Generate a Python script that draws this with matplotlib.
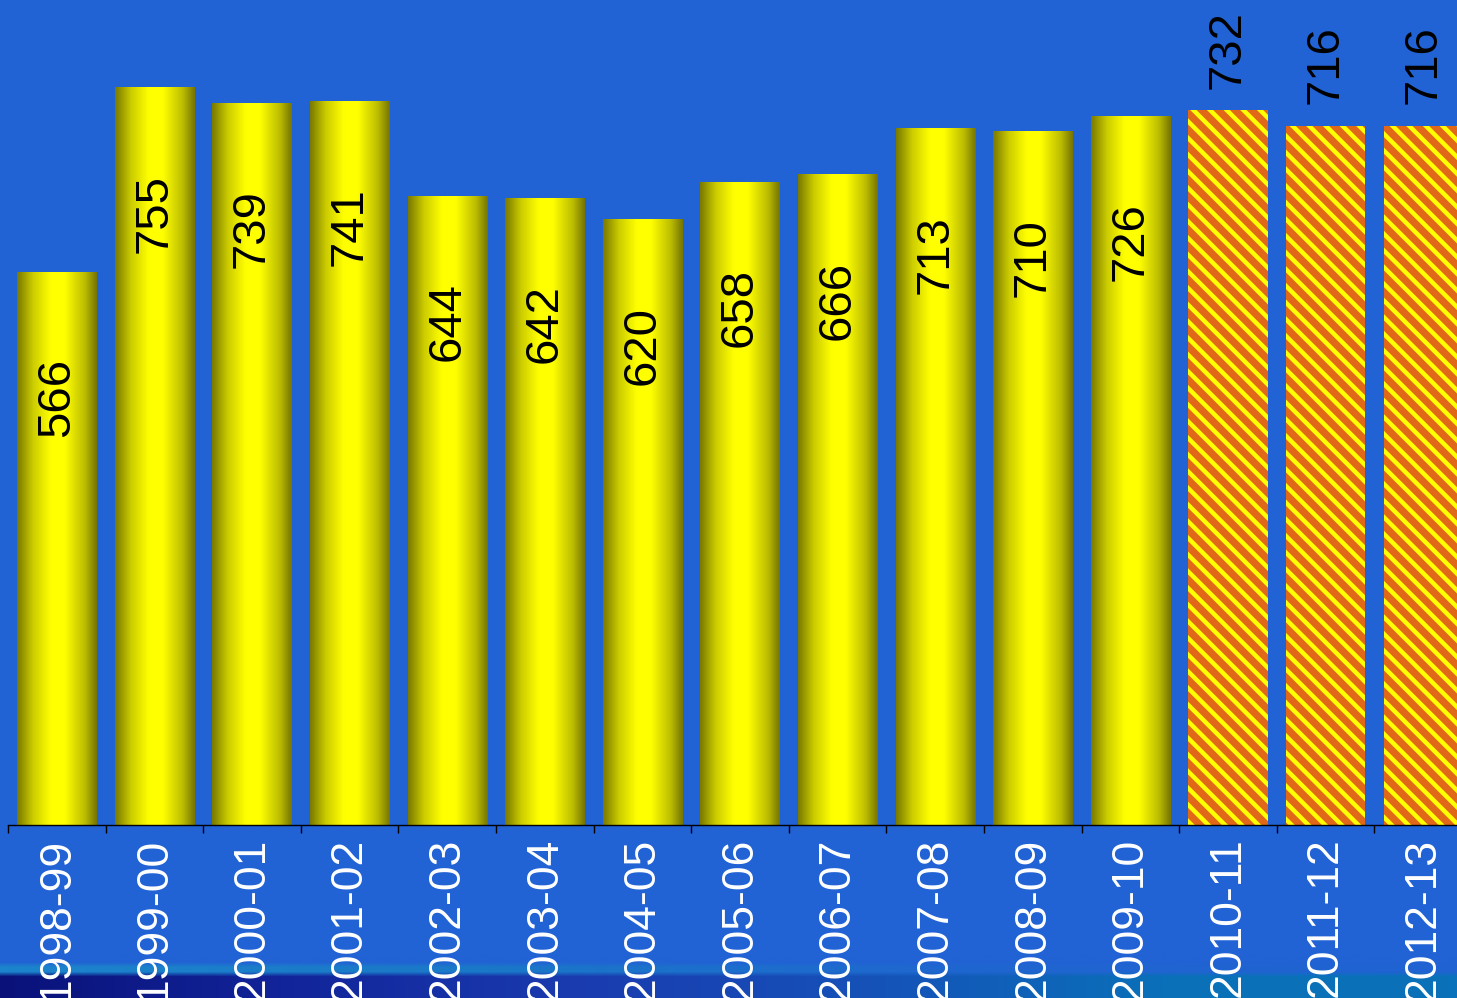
import numpy as np
import matplotlib
matplotlib.use('Agg')
import matplotlib.pyplot as plt
from matplotlib.colors import LinearSegmentedColormap

plt.rcParams['font.family'] = ['Liberation Sans', 'DejaVu Sans']
plt.rcParams['hatch.linewidth'] = 3.2

# 数据
seasons = ['1998-99', '1999-00', '2000-01', '2001-02', '2002-03', '2003-04',
           '2004-05', '2005-06', '2006-07', '2007-08', '2008-09', '2009-10',
           '2010-11', '2011-12', '2012-13']
values = [566, 755, 739, 741, 644, 642, 620, 658, 666, 713, 710, 726, 732, 716, 716]
projected = [False] * 12 + [True] * 3

bg = '#2162d4'
fig = plt.figure(figsize=(14.57, 9.98), dpi=100, facecolor=bg)

# 底部背景条
band = fig.add_axes([0, 0, 1, 43 / 998], zorder=0)
band_cmap_top = LinearSegmentedColormap.from_list('t', ['#1c84cc', '#1a78c8', '#1f66d0', '#2062d2'])
band_cmap_bot = LinearSegmentedColormap.from_list('b', ['#0a127a', '#12259a', '#1a3cb0', '#1552b8', '#0a70b8', '#0a72ba'])
xs = np.linspace(0, 1, 300)
top_rows = band_cmap_top(xs)[None, :, :3].repeat(2, axis=0)
bot_rows = band_cmap_bot(xs)[None, :, :3].repeat(5, axis=0)
fade = np.array(matplotlib.colors.to_rgb(bg))[None, None, :].repeat(300, axis=1)
img = np.concatenate([bot_rows, top_rows, fade.repeat(2, axis=0)], axis=0)
band.imshow(img, extent=[0, 1, 0, 1], aspect='auto', origin='lower', interpolation='bilinear')
band.set_xlim(0, 1)
band.set_ylim(0, 1)
band.axis('off')

ax = fig.add_axes([8 / 1457, 173 / 998, 1464 / 1457, 825 / 998], zorder=1)
ax.patch.set_alpha(0)

bar_cmap = LinearSegmentedColormap.from_list(
    'cyl', [(0, '#787800'), (0.2, '#cccc00'), (0.42, '#ffff00'),
            (0.6, '#ffff00'), (0.85, '#bcbc00'), (1, '#747400')])
grad = np.linspace(0, 1, 256)[None, :]

x = np.arange(len(seasons))
width = 0.81
bars = ax.bar(x, values, width=width, color='none', edgecolor='none')
for rect, v, p in zip(bars, values, projected):
    x0 = rect.get_x()
    if p:
        rect.set_facecolor('#e06818')
        rect.set_edgecolor('#ffff00')
        rect.set_linewidth(0)
        rect.set_hatch('\\\\')
        ax.text(rect.get_x() + width / 2, v + 22, str(v), rotation=90,
                ha='center', va='bottom', fontsize=34, color='black')
    else:
        ax.imshow(grad, extent=[x0, x0 + width, 0, v], aspect='auto',
                  cmap=bar_cmap, interpolation='bilinear', zorder=2)
        ax.text(rect.get_x() + width / 2, v - 88, str(v), rotation=90,
                ha='center', va='top', fontsize=34, color='black', zorder=3)

ax.set_xlim(-0.5, len(seasons) - 0.5)
ax.set_ylim(0, 845)
ax.set_xticks(x)
ax.set_xticklabels(seasons, rotation=90, fontsize=32, color='white', va='top')
ax.set_xticks(np.arange(len(seasons) + 1) - 0.5, minor=True)
ax.tick_params(axis='x', which='major', length=0, pad=9)
ax.tick_params(axis='x', which='minor', length=6, width=1, color='black')
ax.set_yticks([])
for s in ['top', 'right', 'left']:
    ax.spines[s].set_visible(False)
ax.spines['bottom'].set_color('black')
ax.spines['bottom'].set_linewidth(1)

fig.savefig('out.png', dpi=100, facecolor=bg)
